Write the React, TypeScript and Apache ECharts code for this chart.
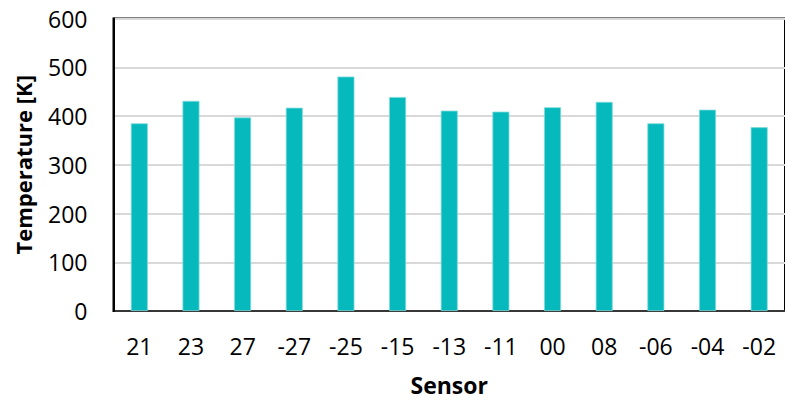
import React, { useEffect, useRef } from "react";
import * as echarts from "echarts";

const sensors = ["21", "23", "27", "-27", "-25", "-15", "-13", "-11", "00", "08", "-06", "-04", "-02"];
const temperatures = [385, 431, 397, 417, 481, 439, 411, 409, 418, 429, 385, 413, 377];
const yTicks = { min: 0, max: 600, interval: 100 };

export default function App() {
  const ref = useRef<HTMLDivElement>(null);
  useEffect(() => {
    if (!ref.current) return;
    const chart = echarts.init(ref.current, null, { renderer: "svg" });
    const font = "'Open Sans', Calibri, sans-serif";
    chart.setOption({
      animation: false,
      backgroundColor: "#ffffff",
      grid: {
        left: 113.5,
        top: 18.5,
        bottom: 91,
        right: -8,
        show: true,
        borderColor: "#000000",
        borderWidth: 2,
      },
      xAxis: {
        type: "category",
        data: sensors,
        axisLine: { show: true, lineStyle: { color: "#000000", width: 1.5 } },
        axisTick: { show: false },
        axisLabel: { color: "#000000", fontFamily: font, fontSize: 23, margin: 23 },
        name: "Sensor",
        nameLocation: "middle",
        nameGap: 62,
        nameTextStyle: { color: "#000000", fontFamily: font, fontSize: 23, fontWeight: "bold" },
      },
      yAxis: {
        type: "value",
        min: yTicks.min,
        max: yTicks.max,
        interval: yTicks.interval,
        axisLine: { show: true, lineStyle: { color: "#000000", width: 2 } },
        axisTick: { show: false },
        axisLabel: { color: "#000000", fontFamily: font, fontSize: 23, margin: 26 },
        splitLine: { show: true, lineStyle: { color: "#d9d9d9", width: 2 } },
        name: "Temperature [K]",
        nameLocation: "middle",
        nameGap: 80,
        nameTextStyle: { color: "#000000", fontFamily: font, fontSize: 22, fontWeight: "bold" },
      },
      series: [
        {
          type: "bar",
          data: temperatures,
          barWidth: 17,
          itemStyle: { color: "#06B9BC", borderColor: "#7fdadb", borderWidth: 0.8 },
        },
      ],
    });
    return () => chart.dispose();
  }, []);
  return <div ref={ref} style={{ width: 785, height: 402, position: "absolute", left: 0, top: 0 }} />;
}
